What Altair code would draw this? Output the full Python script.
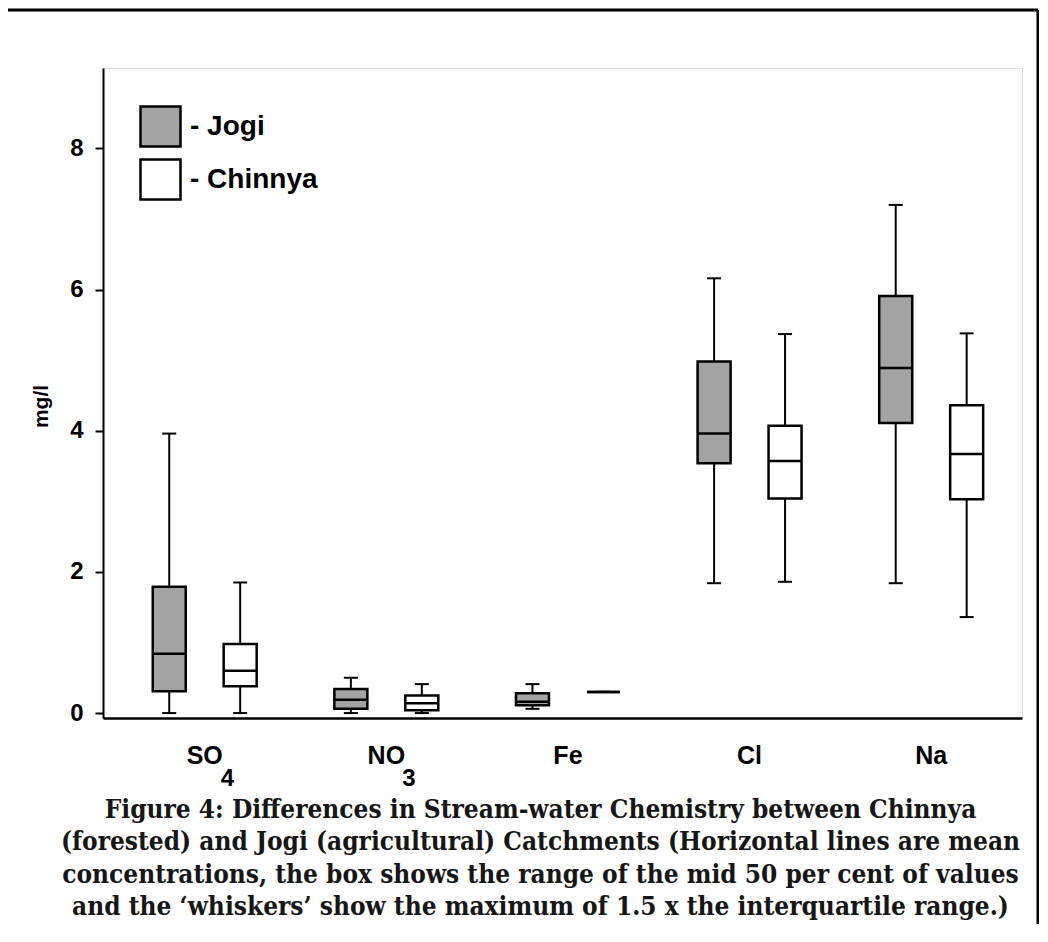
import altair as alt
import pandas as pd

# ---- data (mg/l) ----
categories = ["SO4", "NO3", "Fe", "Cl", "Na"]
label_main = ["SO", "NO", "Fe", "Cl", "Na"]
label_sub = ["4", "3", "", "", ""]
catchments = ["Jogi", "Chinnya"]

jogi_min = [0.00, 0.00, 0.06, 1.84, 1.84]
jogi_q1 = [0.31, 0.06, 0.11, 3.54, 4.11]
jogi_mid = [0.84, 0.19, 0.16, 3.96, 4.89]
jogi_q3 = [1.79, 0.34, 0.28, 4.98, 5.91]
jogi_max = [3.96, 0.50, 0.41, 6.16, 7.20]

chinnya_min = [0.00, 0.00, 0.30, 1.86, 1.36]
chinnya_q1 = [0.38, 0.04, 0.30, 3.04, 3.03]
chinnya_mid = [0.60, 0.14, 0.30, 3.57, 3.67]
chinnya_q3 = [0.98, 0.25, 0.30, 4.07, 4.36]
chinnya_max = [1.85, 0.41, 0.30, 5.37, 5.38]

y_ticks = [0, 2, 4, 6, 8]

caption = [
    "Figure 4: Differences in Stream-water Chemistry between Chinnya",
    "(forested) and Jogi (agricultural) Catchments (Horizontal lines are mean",
    "concentrations, the box shows the range of the mid 50 per cent of values",
    "and the \u2018whiskers\u2019 show the maximum of 1.5 x the interquartile range.)",
]

rows = []
stats = {
    "Jogi": (jogi_min, jogi_q1, jogi_mid, jogi_q3, jogi_max),
    "Chinnya": (chinnya_min, chinnya_q1, chinnya_mid, chinnya_q3, chinnya_max),
}
for c in catchments:
    mn, q1, md, q3, mx = stats[c]
    for i, cat in enumerate(categories):
        rows.append(dict(cat=cat, catchment=c, lo=mn[i], q1=q1[i], mid=md[i], q3=q3[i], hi=mx[i]))
df = pd.DataFrame(rows)
labels_df = pd.DataFrame({"cat": categories, "main": label_main, "sub": label_sub})

W, H = 919, 650

x_enc = alt.X("cat:N", sort=categories,
              scale=alt.Scale(paddingInner=0, paddingOuter=0.03, align=1),
              axis=alt.Axis(title=None, labels=False, ticks=False, domain=True,
                            domainColor="black", domainWidth=2.5))
xo_enc = alt.XOffset("catchment:N", sort=catchments,
                     scale=alt.Scale(paddingInner=0, paddingOuter=0.28))
y_scale = alt.Scale(domain=[-0.07, 9.14], nice=False, zero=False)

base = alt.Chart(df)

whisker = base.mark_rule(color="black", strokeWidth=2).encode(
    x=x_enc, xOffset=xo_enc,
    y=alt.Y("lo:Q", scale=y_scale,
            axis=alt.Axis(title="mg/l", values=y_ticks, format="d", grid=False,
                          domainColor="black", domainWidth=2,
                          tickColor="black", tickWidth=2, tickSize=8,
                          labelFont="Liberation Sans", labelFontWeight="bold",
                          labelFontSize=24, labelColor="black", labelPadding=12,
                          titleFont="Liberation Sans", titleFontWeight="bold",
                          titleFontSize=21, titleColor="black",
                          titleAngle=270, titleX=-62, titleY=338,
                          titleAlign="center", titleBaseline="middle")),
    y2="hi:Q",
)

cap_lo = base.mark_tick(color="black", size=14, thickness=2, opacity=1).encode(
    x=x_enc, xOffset=xo_enc, y=alt.Y("lo:Q", scale=y_scale))
cap_hi = base.mark_tick(color="black", size=14, thickness=2, opacity=1).encode(
    x=x_enc, xOffset=xo_enc, y=alt.Y("hi:Q", scale=y_scale))

box = base.mark_bar(size=33, stroke="black", strokeWidth=2.5, opacity=1).encode(
    x=x_enc, xOffset=xo_enc,
    y=alt.Y("q1:Q", scale=y_scale),
    y2="q3:Q",
    fill=alt.Fill("catchment:N", sort=catchments,
                  scale=alt.Scale(domain=catchments, range=["#a3a3a3", "#ffffff"]),
                  legend=alt.Legend(title=None, orient="none", legendX=36, legendY=37,
                                    symbolType="square", symbolSize=1600,
                                    symbolStrokeColor="black", symbolStrokeWidth=2.5,
                                    symbolOpacity=1,
                                    labelFont="Liberation Sans", labelFontWeight="bold",
                                    labelFontSize=28, labelColor="black",
                                    labelExpr="'- ' + datum.label",
                                    rowPadding=2, labelOffset=8, padding=0)),
)

median = base.mark_tick(color="black", size=33, thickness=2.5, opacity=1).encode(
    x=x_enc, xOffset=xo_enc, y=alt.Y("mid:Q", scale=y_scale))

lab_main = alt.Chart(labels_df).mark_text(
    font="Liberation Sans", fontWeight="bold", fontSize=25, color="black",
    align="center", baseline="middle").encode(
    x=x_enc, y=alt.value(H + 38), text="main:N")
lab_sub = alt.Chart(labels_df).mark_text(
    font="Liberation Sans", fontWeight="bold", fontSize=24, color="black",
    align="left", baseline="middle", dx=16).encode(
    x=x_enc, y=alt.value(H + 61), text="sub:N")

frame_df = pd.DataFrame({"k": [0]})

cap_text = alt.Chart(frame_df).mark_text(
    text=caption, lineHeight=32.3, align="center", baseline="top",
    font="DejaVu Serif Condensed, DejaVu Serif", fontSize=26, fontWeight="bold",
    color="#161616").encode(x=alt.value(W / 2 - 22), y=alt.value(H + 79))

frame_left = alt.Chart(frame_df).mark_rule(color="black", strokeWidth=3).encode(
    x=alt.value(-99), y=alt.value(-58), y2=alt.value(H + 206))
frame_top = alt.Chart(frame_df).mark_rule(color="black", strokeWidth=3).encode(
    x=alt.value(-99), x2=alt.value(W + 16), y=alt.value(-58))
frame_right = alt.Chart(frame_df).mark_rule(color="black", strokeWidth=3).encode(
    x=alt.value(W + 16), y=alt.value(-58), y2=alt.value(H + 206))

chart = alt.layer(
    whisker, cap_lo, cap_hi, box, median, lab_main, lab_sub, cap_text,
    frame_left, frame_top, frame_right,
).properties(
    width=W, height=H,
    padding={"left": 95, "top": 60, "right": 17, "bottom": 206},
    autosize=alt.AutoSizeParams(type="none"),
).configure_view(stroke=None).configure(background="white")

chart.save("out.html", embed_options={"renderer": "svg", "actions": False})
